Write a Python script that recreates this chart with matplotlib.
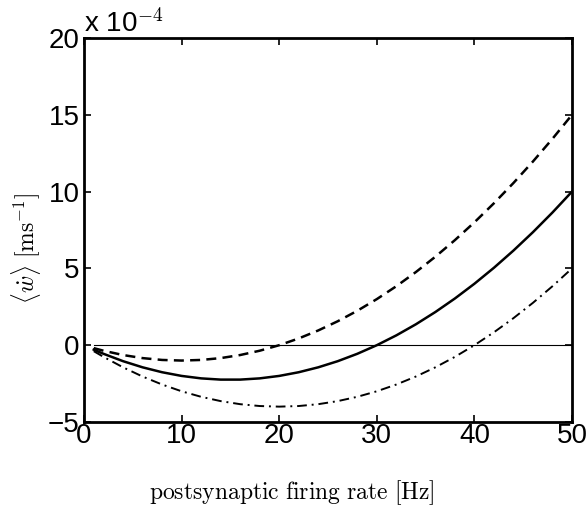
import numpy as np
import matplotlib
matplotlib.use("Agg")
import matplotlib.pyplot as plt

plt.rcParams['font.family'] = ['Liberation Sans', 'DejaVu Sans']
plt.rcParams['mathtext.fontset'] = 'cm'

# firing rate [Hz] and mean weight change in units of 1e-4 ms^-1
rate = [1, 2, 4, 6, 8, 10, 12, 14, 16, 18, 20, 22, 24, 26, 28, 30,
        32, 34, 36, 38, 40, 42, 44, 46, 48, 50]
w_solid = [-0.29, -0.56, -1.04, -1.44, -1.76, -2.00, -2.16, -2.24, -2.24,
           -2.16, -2.00, -1.76, -1.44, -1.04, -0.56, 0.00, 0.64, 1.36, 2.16,
           3.04, 4.00, 5.04, 6.16, 7.36, 8.64, 10.00]
w_dashed = [-0.19, -0.36, -0.64, -0.84, -0.96, -1.00, -0.96, -0.84, -0.64,
            -0.36, 0.00, 0.44, 0.96, 1.56, 2.24, 3.00, 3.84, 4.76, 5.76,
            6.84, 8.00, 9.24, 10.56, 11.96, 13.44, 15.00]
w_dashdot = [-0.39, -0.76, -1.44, -2.04, -2.56, -3.00, -3.36, -3.64, -3.84,
             -3.96, -4.00, -3.96, -3.84, -3.64, -3.36, -3.00, -2.56, -2.04,
             -1.44, -0.76, 0.00, 0.84, 1.76, 2.76, 3.84, 5.00]

fig = plt.figure(figsize=(5.87, 5.07), dpi=100)
ax = fig.add_axes([84/587, 1 - 422/507, (572-84)/587, (422-38)/507])

ax.plot([rate[0], rate[-1]], [0, 0], color='k', lw=0.8)
ax.plot(rate, w_dashed, color='k', lw=1.8, ls=(0, (4, 2.5)))
ax.plot(rate, w_solid, color='k', lw=1.8, ls='-')
ax.plot(rate, w_dashdot, color='k', lw=1.4, ls=(0, (5, 2.5, 1, 2.5)))

ax.set_xlim(0, 50)
ax.set_ylim(-5, 20)
ax.set_xticks([0, 10, 20, 30, 40, 50])
ax.set_yticks([-5, 0, 5, 10, 15, 20])
ax.tick_params(direction='in', length=5, width=1.2, labelsize=20,
               top=True, right=True)
ax.tick_params(axis='x', pad=1)
ax.tick_params(axis='y', pad=3)
for s in ax.spines.values():
    s.set_linewidth(2)

ax.text(0, 1.0, r'x 10$^{\mathsf{-4}}$', transform=ax.transAxes,
        fontsize=20, ha='left', va='bottom')

# axis labels sit centred on the figure rather than the axes
fig.text(0.497, 1 - 493/507, r'$\mathrm{postsynaptic\ firing\ rate\ [Hz]}$',
         fontsize=17, ha='center', va='center')
fig.text(26/587, 1 - 248/507, r'$\langle\dot{w}\rangle\ [\mathrm{ms}^{-1}]$',
         fontsize=17, ha='center', va='center', rotation=90)

fig.savefig('out.png', dpi=100)
